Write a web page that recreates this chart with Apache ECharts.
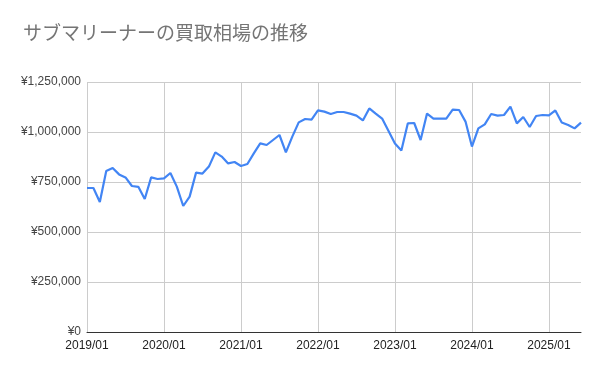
<!DOCTYPE html>
<html><head><meta charset="utf-8">
<script src="https://cdn.jsdelivr.net/npm/echarts@6/dist/echarts.min.js"></script>
<style>html,body{margin:0;padding:0;background:#fff}#c{width:600px;height:371px}</style>
</head><body><div id="c"></div>
<script>
var title = "サブマリーナーの買取相場の推移";
var startYear = 2019, monthCount = 78;
var categories = [];
for (var i = 0; i < monthCount; i++) {
  var y = startYear + Math.floor(i / 12), m = (i % 12) + 1;
  categories.push(y + "/" + (m < 10 ? "0" + m : m));
}
var values = [
  720000, 720000, 650000, 805000, 820000, 788000, 773000, 730000, 726000, 665000, 773000, 765000,
  768000, 795000, 727000, 630000, 677000, 797000, 792000, 827000, 898000, 877000, 843000, 850000,
  830000, 840000, 893000, 943000, 935000, 960000, 985000, 898000, 977000, 1048000, 1065000, 1062000,
  1108000, 1102000, 1090000, 1100000, 1100000, 1092000, 1082000, 1058000, 1118000, 1092000, 1067000, 1005000,
  943000, 908000, 1043000, 1045000, 960000, 1092000, 1067000, 1067000, 1067000, 1112000, 1110000, 1052000,
  927000, 1018000, 1038000, 1090000, 1082000, 1085000, 1127000, 1043000, 1075000, 1025000, 1080000, 1085000,
  1083000, 1108000, 1048000, 1035000, 1018000, 1047000
];
var yTicks = { min: 0, max: 1250000, interval: 250000 };

function yen(v) { return "¥" + v.toLocaleString("en-US"); }
var chart = echarts.init(document.getElementById("c"), null, { renderer: "canvas" });
chart.setOption({
  animation: false,
  backgroundColor: "#ffffff",
  title: {
    text: title, left: 18, top: 18,
    textStyle: { fontFamily: "Noto Sans CJK JP", fontSize: 19, fontWeight: "normal", color: "#757575" }
  },
  grid: { left: 87, right: 19, top: 82, bottom: 39, containLabel: false },
  xAxis: {
    type: "category", data: categories, boundaryGap: false,
    axisLine: { lineStyle: { color: "#333333", width: 1 } },
    axisTick: { show: false },
    axisLabel: {
      interval: function (i) { return i % 12 === 0; },
      color: "#222222", fontFamily: "Liberation Sans", fontSize: 12, margin: 8
    },
    splitLine: { show: true, interval: function (i) { return i % 12 === 0; }, lineStyle: { color: "#cccccc", width: 1 } }
  },
  yAxis: {
    type: "value", min: yTicks.min, max: yTicks.max, interval: yTicks.interval,
    axisLine: { show: false },
    axisTick: { show: false },
    axisLabel: { formatter: yen, color: "#444444", fontFamily: "Liberation Sans", fontSize: 12, margin: 6 },
    splitLine: { lineStyle: { color: "#cccccc", width: 1 } }
  },
  series: [{
    type: "line", data: values, showSymbol: false, symbol: "none",
    lineStyle: { color: "#4285F4", width: 2.2 },
    itemStyle: { color: "#4285F4" }
  }]
});
</script></body></html>
